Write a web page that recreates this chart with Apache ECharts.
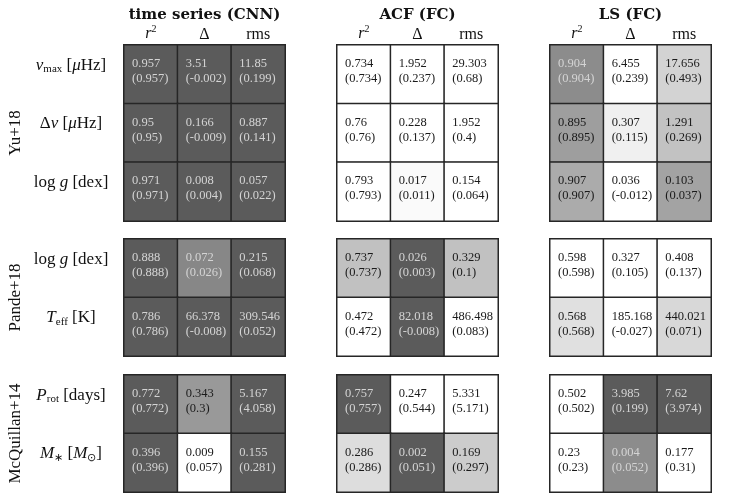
<!DOCTYPE html>
<html>
	<head>
		<meta charset="utf-8">
		<title></title>
		<script src="https://cdn.jsdelivr.net/npm/echarts@6/dist/echarts.min.js"></script>
		<style>
			html, body { margin: 0; padding: 0; background: #fff; }
			#main { width: 747px; height: 501px; }
		</style>
	</head>
	<body>
		<div id="main"></div>
	</body>
	<script>
		// column groups (models) and metrics
		var models = ["time series (CNN)", "ACF (FC)", "LS (FC)"];
		var metrics = ["r2", "Delta", "rms"];
		// row groups (catalogues) and their parameters
		var groups = ["Yu+18", "Pande+18", "McQuillan+14"];
		var params = [["numax", "dnu", "logg"], ["logg", "teff"], ["prot", "mass"]];

		// 7 rows x 9 columns: CNN r2, Δ, rms | ACF r2, Δ, rms | LS r2, Δ, rms
		var scores = [
			[0.957, 3.51, 11.85, 0.734, 1.952, 29.303, 0.904, 6.455, 17.656],
			[0.95, 0.166, 0.887, 0.76, 0.228, 1.952, 0.895, 0.307, 1.291],
			[0.971, 0.008, 0.057, 0.793, 0.017, 0.154, 0.907, 0.036, 0.103],
			[0.888, 0.072, 0.215, 0.737, 0.026, 0.329, 0.598, 0.327, 0.408],
			[0.786, 66.378, 309.546, 0.472, 82.018, 486.498, 0.568, 185.168, 440.021],
			[0.772, 0.343, 5.167, 0.757, 0.247, 5.331, 0.502, 3.985, 7.62],
			[0.396, 0.009, 0.155, 0.286, 0.002, 0.169, 0.23, 0.004, 0.177]
		];
		// values in brackets
		var scaled = [
			[0.957, -0.002, 0.199, 0.734, 0.237, 0.68, 0.904, 0.239, 0.493],
			[0.95, -0.009, 0.141, 0.76, 0.137, 0.4, 0.895, 0.115, 0.269],
			[0.971, 0.004, 0.022, 0.793, 0.011, 0.064, 0.907, -0.012, 0.037],
			[0.888, 0.026, 0.068, 0.737, 0.003, 0.1, 0.598, 0.105, 0.137],
			[0.786, -0.008, 0.052, 0.472, -0.008, 0.083, 0.568, -0.027, 0.071],
			[0.772, 0.3, 4.058, 0.757, 0.544, 5.171, 0.502, 0.199, 3.974],
			[0.396, 0.057, 0.281, 0.286, 0.051, 0.297, 0.23, 0.052, 0.31]
		];
		// cell shading (0 = white, 1 = darkest)
		var shades = [
			[1, 1, 1, 0, 0, 0, 0.70, 0, 0.27],
			[1, 1, 1, 0, 0, 0, 0.59, 0.09, 0.37],
			[1, 1, 1, 0, 0.03, 0, 0.51, 0, 0.56],
			[1, 0.73, 1, 0.38, 1, 0.38, 0, 0, 0],
			[1, 1, 1, 0, 1, 0, 0.19, 0, 0.24],
			[1, 0.62, 1, 1, 0, 0, 0, 1, 1],
			[1, 0, 1, 0.21, 1, 0.31, 0, 0.70, 0]
		];

		var serif = "Liberation Serif";
		var paramText = {
			numax: "{it|ν}{sub|max} [{it|μ}Hz]",
			dnu: "Δ{it|ν} [{it|μ}Hz]",
			logg: "log {it|g} [dex]",
			teff: "{it|T}{sub|eff} [K]",
			prot: "{it|P}{sub|rot} [days]",
			mass: "{it|M}{sub|∗} [{it|M}{sub|⊙}]"
		};
		var metricText = {
			r2: "{it|r}{sup|2}",
			Delta: "Δ",
			rms: "rms"
		};
		var rowRich = {
			it: { fontFamily: serif, fontSize: 17, fontStyle: "italic", color: "#111" },
			sub: { fontFamily: serif, fontSize: 11, color: "#111", padding: [8, 0, 0, 0] }
		};
		var colRich = {
			it: { fontFamily: serif, fontSize: 16, fontStyle: "italic", color: "#111" },
			sup: { fontFamily: serif, fontSize: 10, color: "#111", padding: [0, 0, 9, 0] }
		};

		var gridLeft = [124, 337, 550];
		var gridTop = [45, 239, 375];
		var gridHeight = [176, 117, 117];

		var grids = [], xAxes = [], yAxes = [], series = [];
		var rowStart = 0;
		for (var g = 0; g < groups.length; g++) {
			for (var m = 0; m < models.length; m++) {
				var idx = grids.length;
				grids.push({ left: gridLeft[m], top: gridTop[g], width: 161, height: gridHeight[g] });
				xAxes.push({
					type: "category",
					gridIndex: idx,
					position: "top",
					data: metrics,
					name: g === 0 ? models[m] : "",
					nameLocation: "middle",
					nameGap: 21,
					nameTextStyle: { fontFamily: "DejaVu Serif", fontWeight: "bold", fontSize: 15, color: "#111" },
					axisLine: { show: false },
					axisTick: { show: false },
					splitLine: { show: false },
					axisLabel: {
						show: g === 0,
						interval: 0,
						margin: 2,
						fontFamily: serif,
						fontSize: 16,
						color: "#111",
						formatter: function (v) { return metricText[v]; },
						rich: colRich
					}
				});
				yAxes.push({
					type: "category",
					gridIndex: idx,
					inverse: true,
					data: params[g],
					name: m === 0 ? groups[g] : "",
					nameLocation: "middle",
					nameRotate: 90,
					nameGap: 100,
					nameTextStyle: { fontFamily: serif, fontSize: 17, color: "#111" },
					axisLine: { show: false },
					axisTick: { show: false },
					splitLine: { show: false },
					axisLabel: {
						show: m === 0,
						interval: 0,
						align: "center",
						margin: 53,
						padding: [0, 0, 18, 0],
						fontFamily: serif,
						fontSize: 17,
						color: "#111",
						formatter: function (v) { return paramText[v]; },
						rich: rowRich
					}
				});
				var data = [];
				for (var r = 0; r < params[g].length; r++) {
					for (var c = 0; c < 3; c++) {
						var row = rowStart + r, col = m * 3 + c;
						var s = shades[row][col];
						data.push({
							value: [c, r, s],
							name: scores[row][col] + "\n(" + scaled[row][col] + ")",
							label: { color: s > 0.65 ? "#d4d4d4" : "#1a1a1a" }
						});
					}
				}
				series.push({
					type: "heatmap",
					xAxisIndex: idx,
					yAxisIndex: idx,
					data: data,
					itemStyle: { borderColor: "#262626", borderWidth: 1.5 },
					label: {
						show: true,
						position: "insideLeft",
						distance: 9,
						offset: [0, -3],
						fontFamily: serif,
						fontSize: 12.5,
						lineHeight: 15,
						formatter: function (p) { return p.name; }
					},
					emphasis: { disabled: true }
				});
			}
			rowStart += params[g].length;
		}

		var option = {
			animation: false,
			backgroundColor: "#fff",
			visualMap: {
				type: "continuous",
				show: false,
				min: 0,
				max: 1,
				dimension: 2,
				inRange: { color: ["#ffffff", "#5b5b5b"] }
			},
			grid: grids,
			xAxis: xAxes,
			yAxis: yAxes,
			series: series
		};

		var echart = echarts.init(document.getElementById("main"));
		echart.setOption(option);
	</script>
</html>
